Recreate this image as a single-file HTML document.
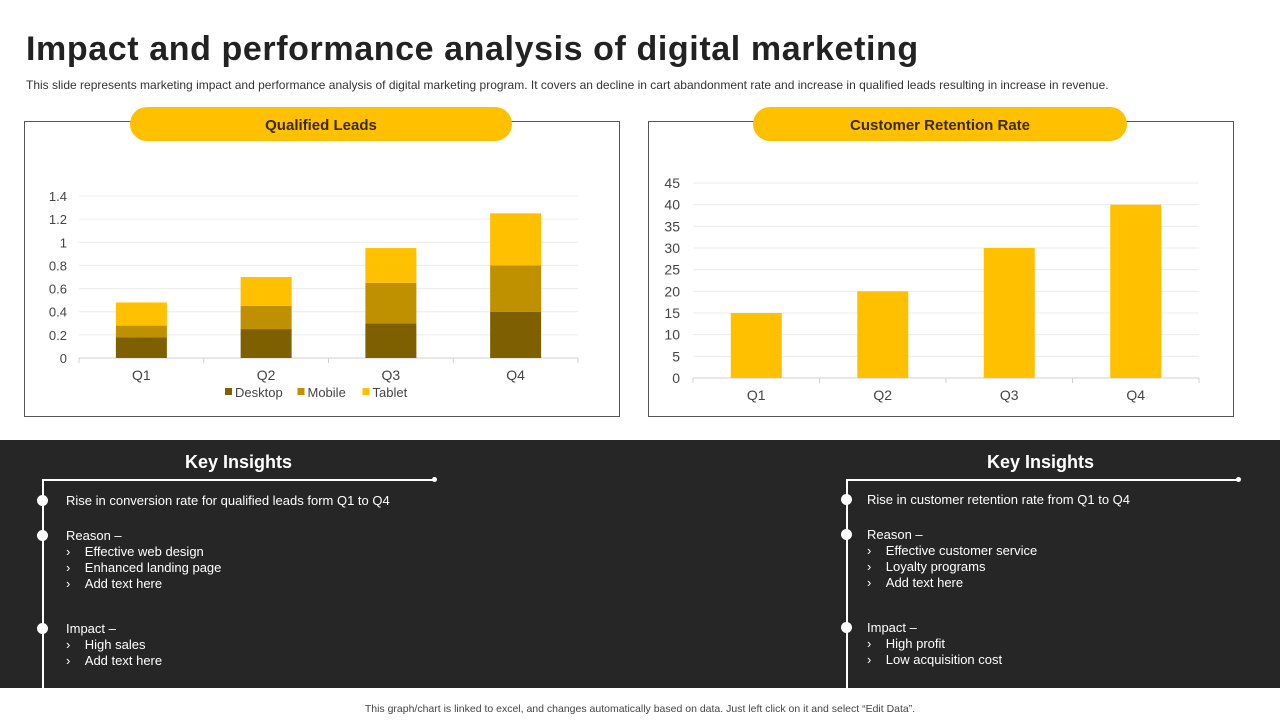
<!DOCTYPE html>
<html><head><meta charset="utf-8"><style>
body{margin:0;width:1280px;height:720px;background:#fff;font-family:"Liberation Sans",sans-serif;position:relative;overflow:hidden}
.abs{position:absolute}
h1{position:absolute;left:26px;top:30px;margin:0;font-size:34px;font-weight:bold;color:#222;letter-spacing:0.6px}
.sub{left:26px;top:78px;font-size:12px;color:#333;white-space:nowrap}
.box{border:1px solid #555;background:#fff}
.pill{background:#ffc000;border-radius:17px;height:34px;line-height:38px;text-align:center;font-weight:bold;font-size:15px;color:#3a2a00}
.dark{left:0;top:440px;width:1280px;height:248px;background:#262626}
.ki{color:#fff;font-weight:bold;font-size:18px}
.it{color:#fff;font-size:13px;line-height:16px}
.dot{width:11px;height:11px;border-radius:50%;background:#fff}
svg text{font-family:"Liberation Sans",sans-serif}
</style></head><body>
<h1>Impact and performance analysis of digital marketing</h1>
<div class="abs sub">This slide represents marketing impact and performance analysis of digital marketing program. It covers an decline in cart abandonment rate and increase in qualified leads resulting in increase in revenue.</div>

<div class="abs box" style="left:24px;top:121px;width:594px;height:294px"></div>
<div class="abs pill" style="left:130px;top:107px;width:382px">Qualified Leads</div>
<div class="abs box" style="left:648px;top:121px;width:584px;height:294px"></div>
<div class="abs pill" style="left:753px;top:107px;width:374px">Customer Retention Rate</div>

<svg class="abs" style="left:0;top:0" width="1280" height="440" id="charts"></svg>

<div class="abs dark"></div>
<div class="abs ki" style="left:185px;top:452px">Key Insights</div>
<div class="abs ki" style="left:987px;top:452px">Key Insights</div>
<div class="abs" style="left:42px;top:479px;width:393px;height:1.5px;background:#fff"></div>
<div class="abs" style="left:42px;top:479px;width:1.5px;height:209px;background:#fff"></div>
<div class="abs dot" style="left:432px;top:477px;width:5px;height:5px"></div>
<div class="abs" style="left:846px;top:479px;width:393px;height:1.5px;background:#fff"></div>
<div class="abs" style="left:846px;top:479px;width:1.5px;height:209px;background:#fff"></div>
<div class="abs dot" style="left:1236px;top:477px;width:5px;height:5px"></div>

<div class="abs dot" style="left:37px;top:495px"></div>
<div class="abs dot" style="left:37px;top:530px"></div>
<div class="abs dot" style="left:37px;top:623px"></div>
<div class="abs dot" style="left:841px;top:494px"></div>
<div class="abs dot" style="left:841px;top:529px"></div>
<div class="abs dot" style="left:841px;top:622px"></div>

<div class="abs it" style="left:66px;top:493px">Rise in conversion rate for qualified leads form Q1 to Q4</div>
<div class="abs it" style="left:66px;top:528px">Reason –<br>›&nbsp;&nbsp;&nbsp;&nbsp;Effective web design<br>›&nbsp;&nbsp;&nbsp;&nbsp;Enhanced landing page<br>›&nbsp;&nbsp;&nbsp;&nbsp;Add text here</div>
<div class="abs it" style="left:66px;top:621px">Impact –<br>›&nbsp;&nbsp;&nbsp;&nbsp;High sales<br>›&nbsp;&nbsp;&nbsp;&nbsp;Add text here</div>
<div class="abs it" style="left:867px;top:492px">Rise in customer retention rate from Q1 to Q4</div>
<div class="abs it" style="left:867px;top:527px">Reason –<br>›&nbsp;&nbsp;&nbsp;&nbsp;Effective customer service<br>›&nbsp;&nbsp;&nbsp;&nbsp;Loyalty programs<br>›&nbsp;&nbsp;&nbsp;&nbsp;Add text here</div>
<div class="abs it" style="left:867px;top:620px">Impact –<br>›&nbsp;&nbsp;&nbsp;&nbsp;High profit<br>›&nbsp;&nbsp;&nbsp;&nbsp;Low acquisition cost</div>

<div class="abs" style="left:0;width:1280px;top:703px;text-align:center;font-size:10.5px;color:#444">This graph/chart is linked to excel, and changes automatically based on data. Just left click on it and select “Edit Data”.</div>

<script>
const categories=["Q1","Q2","Q3","Q4"];
const desktop=[0.18,0.25,0.3,0.4];
const mobile=[0.1,0.2,0.35,0.4];
const tablet=[0.2,0.25,0.3,0.45];
const leadTicks=["0","0.2","0.4","0.6","0.8","1","1.2","1.4"];
const retention=[15,20,30,40];
const retTicks=[0,5,10,15,20,25,30,35,40,45];
const svg=document.getElementById('charts');
const NS='http://www.w3.org/2000/svg';
function mk(t,a,txt){const e=document.createElementNS(NS,t);for(const k in a)e.setAttribute(k,a[k]);if(txt!==undefined)e.textContent=txt;svg.appendChild(e);return e;}
const L={x0:79,x1:578,y0:358,y1:196,max:1.4};
const ly=v=>L.y0-(v/L.max)*(L.y0-L.y1);
const lbw=(L.x1-L.x0)/categories.length;
leadTicks.forEach(t=>{const v=parseFloat(t);const y=ly(v);
 const g=mk('line',{x1:L.x0,x2:L.x1,y1:y,y2:y,stroke:v===0?'#d0d0d0':'#ececec'});
 const tx=mk('text',{x:67,y:y+5,'text-anchor':'end','font-size':13,fill:'#444'},t);});
const series=[[desktop,'#7f6000','Desktop'],[mobile,'#bf9000','Mobile'],[tablet,'#ffc000','Tablet']];
categories.forEach((c,i)=>{const cx=L.x0+lbw*(i+0.5);let base=0;
 series.forEach(([arr,col,nm])=>{const r=mk('rect',{x:cx-25.5,width:51,y:ly(base+arr[i]),height:ly(base)-ly(base+arr[i]),fill:col});base+=arr[i];});
 const tx=mk('text',{x:cx,y:380,'text-anchor':'middle','font-size':14,fill:'#444'},c);
 const tk=mk('line',{x1:L.x0+lbw*i,x2:L.x0+lbw*i,y1:L.y0,y2:L.y0+5,stroke:'#d0d0d0'});});
mk('line',{x1:L.x1,x2:L.x1,y1:L.y0,y2:L.y0+5,stroke:'#d0d0d0'});
let lx=225;series.forEach(([a,col,nm])=>{const s=mk('rect',{x:lx,y:388,width:7,height:7,fill:col});
 const t=mk('text',{x:lx+10,y:397,'font-size':13,fill:'#444'},nm);lx+=nm.length*7.5+20;});
const R={x0:693,x1:1199,y0:378,y1:183,max:45};
const ry=v=>R.y0-(v/R.max)*(R.y0-R.y1);
const rbw=(R.x1-R.x0)/categories.length;
retTicks.forEach(v=>{const y=ry(v);
 const g=mk('line',{x1:R.x0,x2:R.x1,y1:y,y2:y,stroke:v===0?'#d0d0d0':'#ececec'});
 const tx=mk('text',{x:680,y:y+5,'text-anchor':'end','font-size':14,fill:'#444'},v);});
categories.forEach((c,i)=>{const cx=R.x0+rbw*(i+0.5);
 const r=mk('rect',{x:cx-25.5,width:51,y:ry(retention[i]),height:R.y0-ry(retention[i]),fill:'#ffc000'});
 const tx=mk('text',{x:cx,y:400,'text-anchor':'middle','font-size':14,fill:'#444'},c);
 const tk=mk('line',{x1:R.x0+rbw*i,x2:R.x0+rbw*i,y1:R.y0,y2:R.y0+5,stroke:'#d0d0d0'});});
mk('line',{x1:R.x1,x2:R.x1,y1:R.y0,y2:R.y0+5,stroke:'#d0d0d0'});
</script>
</body></html>
